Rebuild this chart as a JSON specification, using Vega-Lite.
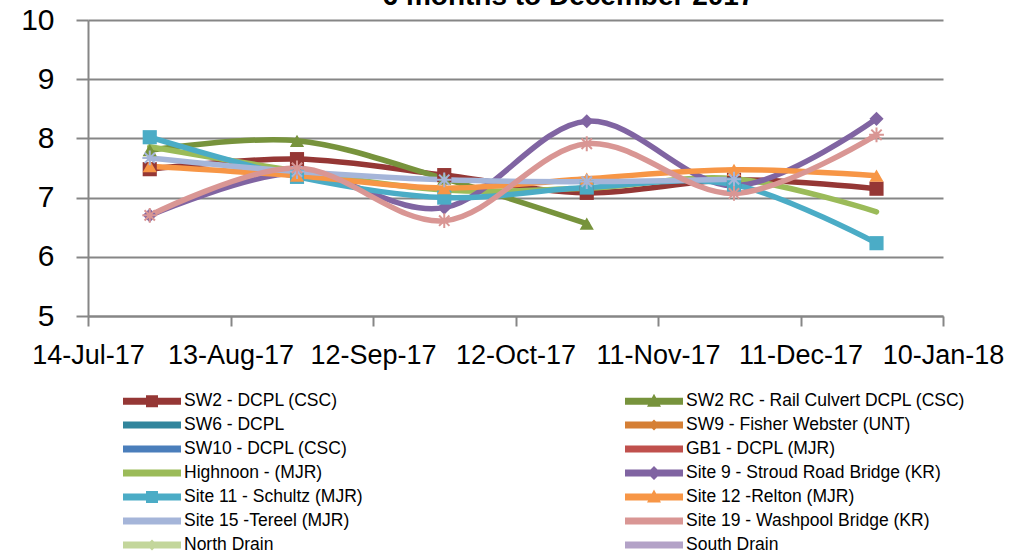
{
  "$schema": "https://vega.github.io/schema/vega-lite/v6.json",
  "width": 855,
  "height": 296,
  "autosize": {"type": "none"},
  "padding": {"left": 88, "top": 20, "right": 81, "bottom": 238},
  "background": "white",
  "title": {
    "text": "6 months to December 2017",
    "font": "Liberation Sans",
    "fontSize": 28,
    "fontWeight": "bold",
    "color": "black",
    "anchor": "middle",
    "dx": 53,
    "offset": -6
  },
  "data": {
    "values": [
      {"series": "SW2 - DCPL (CSC)", "date": "2017-07-27", "value": 7.48},
      {"series": "SW2 - DCPL (CSC)", "date": "2017-08-27", "value": 7.65},
      {"series": "SW2 - DCPL (CSC)", "date": "2017-09-27", "value": 7.38},
      {"series": "SW2 - DCPL (CSC)", "date": "2017-10-27", "value": 7.08},
      {"series": "SW2 - DCPL (CSC)", "date": "2017-11-27", "value": 7.3},
      {"series": "SW2 - DCPL (CSC)", "date": "2017-12-27", "value": 7.15},
      {"series": "SW2 RC - Rail Culvert DCPL (CSC)", "date": "2017-07-27", "value": 7.8},
      {"series": "SW2 RC - Rail Culvert DCPL (CSC)", "date": "2017-08-27", "value": 7.96},
      {"series": "SW2 RC - Rail Culvert DCPL (CSC)", "date": "2017-09-27", "value": 7.32},
      {"series": "SW2 RC - Rail Culvert DCPL (CSC)", "date": "2017-10-27", "value": 6.56},
      {"series": "Highnoon - (MJR)", "date": "2017-07-27", "value": 7.86},
      {"series": "Highnoon - (MJR)", "date": "2017-08-27", "value": 7.45},
      {"series": "Highnoon - (MJR)", "date": "2017-09-27", "value": 7.13},
      {"series": "Highnoon - (MJR)", "date": "2017-10-27", "value": 7.16},
      {"series": "Highnoon - (MJR)", "date": "2017-11-27", "value": 7.32},
      {"series": "Highnoon - (MJR)", "date": "2017-12-27", "value": 6.76},
      {"series": "Site 9 - Stroud Road Bridge (KR)", "date": "2017-07-27", "value": 6.7},
      {"series": "Site 9 - Stroud Road Bridge (KR)", "date": "2017-08-27", "value": 7.42},
      {"series": "Site 9 - Stroud Road Bridge (KR)", "date": "2017-09-27", "value": 6.83},
      {"series": "Site 9 - Stroud Road Bridge (KR)", "date": "2017-10-27", "value": 8.29},
      {"series": "Site 9 - Stroud Road Bridge (KR)", "date": "2017-11-27", "value": 7.2},
      {"series": "Site 9 - Stroud Road Bridge (KR)", "date": "2017-12-27", "value": 8.33},
      {"series": "Site 11 - Schultz (MJR)", "date": "2017-07-27", "value": 8.02},
      {"series": "Site 11 - Schultz (MJR)", "date": "2017-08-27", "value": 7.35},
      {"series": "Site 11 - Schultz (MJR)", "date": "2017-09-27", "value": 7.0},
      {"series": "Site 11 - Schultz (MJR)", "date": "2017-10-27", "value": 7.17},
      {"series": "Site 11 - Schultz (MJR)", "date": "2017-11-27", "value": 7.22},
      {"series": "Site 11 - Schultz (MJR)", "date": "2017-12-27", "value": 6.23},
      {"series": "Site 12 -Relton (MJR)", "date": "2017-07-27", "value": 7.53},
      {"series": "Site 12 -Relton (MJR)", "date": "2017-08-27", "value": 7.37},
      {"series": "Site 12 -Relton (MJR)", "date": "2017-09-27", "value": 7.16},
      {"series": "Site 12 -Relton (MJR)", "date": "2017-10-27", "value": 7.32},
      {"series": "Site 12 -Relton (MJR)", "date": "2017-11-27", "value": 7.47},
      {"series": "Site 12 -Relton (MJR)", "date": "2017-12-27", "value": 7.37},
      {"series": "Site 15 -Tereel (MJR)", "date": "2017-07-27", "value": 7.67},
      {"series": "Site 15 -Tereel (MJR)", "date": "2017-08-27", "value": 7.44},
      {"series": "Site 15 -Tereel (MJR)", "date": "2017-09-27", "value": 7.3},
      {"series": "Site 15 -Tereel (MJR)", "date": "2017-10-27", "value": 7.27},
      {"series": "Site 15 -Tereel (MJR)", "date": "2017-11-27", "value": 7.31},
      {"series": "Site 19 - Washpool Bridge (KR)", "date": "2017-07-27", "value": 6.7},
      {"series": "Site 19 - Washpool Bridge (KR)", "date": "2017-08-27", "value": 7.5},
      {"series": "Site 19 - Washpool Bridge (KR)", "date": "2017-09-27", "value": 6.61},
      {"series": "Site 19 - Washpool Bridge (KR)", "date": "2017-10-27", "value": 7.91},
      {"series": "Site 19 - Washpool Bridge (KR)", "date": "2017-11-27", "value": 7.07},
      {"series": "Site 19 - Washpool Bridge (KR)", "date": "2017-12-27", "value": 8.06}
    ]
  },
  "encoding": {
    "x": {
      "field": "date",
      "type": "temporal",
      "scale": {
        "type": "utc",
        "domain": [
          {"year": 2017, "month": 7, "date": 14, "utc": true},
          {"year": 2018, "month": 1, "date": 10, "utc": true}
        ]
      },
      "axis": {
        "title": null,
        "grid": false,
        "format": "%d-%b-%y",
        "values": [
          {"year": 2017, "month": 7, "date": 14, "utc": true},
          {"year": 2017, "month": 8, "date": 13, "utc": true},
          {"year": 2017, "month": 9, "date": 12, "utc": true},
          {"year": 2017, "month": 10, "date": 12, "utc": true},
          {"year": 2017, "month": 11, "date": 11, "utc": true},
          {"year": 2017, "month": 12, "date": 11, "utc": true},
          {"year": 2018, "month": 1, "date": 10, "utc": true}
        ],
        "labelFontSize": 27,
        "tickSize": 10,
        "labelPadding": 16,
        "labelOverlap": false,
        "labelFlush": false
      }
    },
    "y": {
      "field": "value",
      "type": "quantitative",
      "scale": {"domain": [5, 10], "nice": false, "zero": false},
      "axis": {
        "title": null,
        "values": [5, 6, 7, 8, 9, 10],
        "grid": true,
        "labelFontSize": 30,
        "tickSize": 12,
        "labelPadding": 22,
        "labelFlush": false
      }
    },
    "color": {
      "field": "series",
      "type": "nominal",
      "scale": {
        "domain": [
          "SW2 - DCPL (CSC)",
          "SW2 RC - Rail Culvert DCPL (CSC)",
          "SW6 - DCPL",
          "SW9 - Fisher Webster (UNT)",
          "SW10 - DCPL (CSC)",
          "GB1 - DCPL (MJR)",
          "Highnoon - (MJR)",
          "Site 9 - Stroud Road Bridge (KR)",
          "Site 11 - Schultz (MJR)",
          "Site 12 -Relton (MJR)",
          "Site 15 -Tereel (MJR)",
          "Site 19 - Washpool Bridge (KR)",
          "North Drain",
          "South Drain"
        ],
        "range": [
          "#953735", "#77933C", "#31859C", "#D57F35", "#4A7EBB", "#C0504D", "#9BBB59",
          "#8064A2", "#4BACC6", "#F79646", "#A5B5D9", "#D99694", "#C3D69B", "#B3A2C7"
        ]
      },
      "legend": {
        "title": null,
        "orient": "none",
        "legendX": 54,
        "legendY": 371,
        "direction": "horizontal",
        "columns": 2,
        "columnPadding": 262,
        "rowPadding": 5,
        "gridAlign": "each",
        "symbolType": "M-2.9,-0.35H2.9V0.35H-2.9Z",
        "symbolSize": 400,
        "symbolStrokeWidth": 0,
        "labelFontSize": 17.5,
        "labelColor": "black",
        "labelFont": "Liberation Sans",
        "labelOffset": 22,
        "labelLimit": 400,
        "padding": 0,
        "encode": {
          "symbols": {
            "update": {
              "shape": {"signal": "indexof(['SW2 - DCPL (CSC)','Site 11 - Schultz (MJR)'], datum.value) >= 0 ? 'M-2.9,-0.35H2.9V0.35H-2.9Z M-0.6,-0.6H0.6V0.6H-0.6Z' : indexof(['SW2 RC - Rail Culvert DCPL (CSC)','Site 12 -Relton (MJR)'], datum.value) >= 0 ? 'M-2.9,-0.35H2.9V0.35H-2.9Z M0,-0.75L0.7,0.55H-0.7Z' : datum.value == 'Site 9 - Stroud Road Bridge (KR)' ? 'M-2.9,-0.35H2.9V0.35H-2.9Z M0,-0.7L0.7,0L0,0.7L-0.7,0Z' : indexof(['SW9 - Fisher Webster (UNT)','North Drain'], datum.value) >= 0 ? 'M-2.9,-0.35H2.9V0.35H-2.9Z M0,-0.55L0.55,0L0,0.55L-0.55,0Z' : 'M-2.9,-0.35H2.9V0.35H-2.9Z'"},
              "fill": {"signal": "scale('color', datum.value)"},
              "fillOpacity": {"value": 1},
              "opacity": {"value": 1},
              "strokeWidth": {"value": 0}
            }
          }
        }
      }
    }
  },
  "layer": [
    {
      "mark": {"type": "line", "interpolate": "cardinal", "tension": 0, "strokeWidth": 5.5, "strokeCap": "round"}
    },
    {
      "transform": [
        {"filter": {"field": "series", "oneOf": ["SW2 - DCPL (CSC)", "SW2 RC - Rail Culvert DCPL (CSC)", "Site 9 - Stroud Road Bridge (KR)", "Site 11 - Schultz (MJR)", "Site 12 -Relton (MJR)"]}}
      ],
      "mark": {"type": "point", "filled": true, "opacity": 1, "size": 200},
      "encoding": {
        "shape": {
          "field": "series",
          "type": "nominal",
          "legend": null,
          "scale": {
            "domain": ["SW2 - DCPL (CSC)", "SW2 RC - Rail Culvert DCPL (CSC)", "Site 9 - Stroud Road Bridge (KR)", "Site 11 - Schultz (MJR)", "Site 12 -Relton (MJR)"],
            "range": ["square", "triangle-up", "diamond", "square", "triangle-up"]
          }
        }
      }
    },
    {
      "transform": [
        {"filter": {"field": "series", "oneOf": ["Site 15 -Tereel (MJR)", "Site 19 - Washpool Bridge (KR)"]}}
      ],
      "mark": {
        "type": "point",
        "filled": false,
        "opacity": 1,
        "size": 220,
        "strokeWidth": 2,
        "shape": "M-1,0H1M0,-1V1M-0.7,-0.7L0.7,0.7M-0.7,0.7L0.7,-0.7"
      }
    }
  ],
  "config": {
    "view": {"stroke": null},
    "font": "Liberation Sans",
    "axis": {
      "labelColor": "black",
      "labelFont": "Liberation Sans",
      "gridColor": "#868686",
      "gridWidth": 2,
      "domainColor": "#868686",
      "domainWidth": 2,
      "tickColor": "#868686",
      "tickWidth": 2
    }
  }
}
